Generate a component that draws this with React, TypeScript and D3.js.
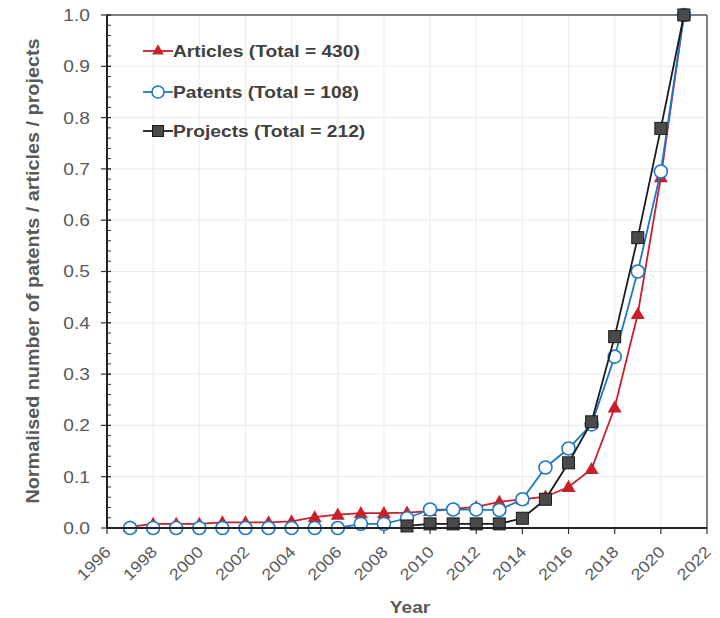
import React from "react";
import * as d3 from "d3";

const years = [1997, 1998, 1999, 2000, 2001, 2002, 2003, 2004, 2005, 2006, 2007, 2008, 2009, 2010, 2011, 2012, 2013, 2014, 2015, 2016, 2017, 2018, 2019, 2020, 2021];
const articles = [0.002, 0.008, 0.008, 0.008, 0.011, 0.011, 0.011, 0.013, 0.021, 0.026, 0.029, 0.029, 0.030, 0.033, 0.037, 0.041, 0.051, 0.056, 0.061, 0.080, 0.115, 0.235, 0.417, 0.684, 1.0];
const patents = [0, 0, 0, 0, 0, 0, 0, 0, 0, 0, 0.008, 0.008, 0.019, 0.036, 0.036, 0.036, 0.035, 0.056, 0.118, 0.155, 0.202, 0.334, 0.5, 0.695, 1.0];
const projects = [null, null, null, null, null, null, null, null, null, null, null, null, 0.004, 0.008, 0.008, 0.008, 0.008, 0.019, 0.056, 0.127, 0.207, 0.373, 0.566, 0.779, 1.0];
const seriesNames = ["Articles (Total = 430)", "Patents (Total = 108)", "Projects (Total = 212)"];
const xTicks = [1996, 1998, 2000, 2002, 2004, 2006, 2008, 2010, 2012, 2014, 2016, 2018, 2020, 2022];
const yTicks = [0, 0.1, 0.2, 0.3, 0.4, 0.5, 0.6, 0.7, 0.8, 0.9, 1.0];

const W = 720, H = 618;
const L = 107, R = 707, T = 15, B = 528;

const RED = "#c8202a";
const BLUE = "#1f78c8";
const BLACK = "#1a1a1a";
const SQFILL = "#4a4a4a";
const TXT = "#595959";
const FONT = "Liberation Sans, Arial, sans-serif";
const SX = 1.13;

export default function App() {
  const x = d3.scaleLinear().domain([1996, 2022]).range([L, R]);
  const y = d3.scaleLinear().domain([0, 1]).range([B, T]);
  const minorY = d3.range(0, 101, 2).map((v) => v / 100);

  const mk = (vals: (number | null)[]) =>
    d3
      .line<number>()
      .defined((_, i) => vals[i] !== null)
      .x((_, i) => x(years[i]))
      .y((_, i) => y(vals[i] as number))(vals as number[]) || "";

  const tri = d3.symbol(d3.symbolTriangle, 85)() || "";
  const triSmall = d3.symbol(d3.symbolTriangle, 60)() || "";

  const renderMarkers = (vals: (number | null)[], kind: string) =>
    vals.map((v, i) => {
      if (v === null) return null;
      const cx = x(years[i]);
      const cy = y(v);
      if (kind === "tri")
        return <path key={i} d={tri} transform={`translate(${cx},${cy + 1})`} fill={RED} />;
      if (kind === "circ")
        return <circle key={i} cx={cx} cy={cy} r={6.5} fill="#fff" stroke={BLUE} strokeWidth={1.6} />;
      return <rect key={i} x={cx - 6} y={cy - 6} width={12} height={12} fill={SQFILL} stroke={BLACK} strokeWidth={1} />;
    });

  const legendY = [51, 92, 131];
  const legendColors = [RED, BLUE, BLACK];
  const legendKinds = ["tri", "circ", "sq"];

  return (
    <svg width={W} height={H} style={{ position: "absolute", left: 0, top: 0, background: "#fff" }} fontFamily={FONT}>
      <rect x={0} y={0} width={W} height={H} fill="#fff" />
      {/* grid */}
      {xTicks.slice(1, -1).map((t) => (
        <line key={"gx" + t} x1={x(t)} x2={x(t)} y1={T} y2={B} stroke="#ebebeb" strokeWidth={1} />
      ))}
      {yTicks.slice(1, -1).map((t) => (
        <line key={"gy" + t} x1={L} x2={R} y1={y(t)} y2={y(t)} stroke="#ebebeb" strokeWidth={1} />
      ))}
      {/* frame */}
      <line x1={L} x2={R} y1={T} y2={T} stroke="#555" strokeWidth={1.5} />
      <line x1={R} x2={R} y1={T} y2={B} stroke="#555" strokeWidth={1.5} />
      {/* y minor ticks */}
      {minorY.map((t) => (
        <line key={"my" + t} x1={L} x2={L + 4} y1={y(t)} y2={y(t)} stroke="#333" strokeWidth={1} />
      ))}
      {yTicks.map((t) => (
        <g key={"ty" + t}>
          <line x1={L - 6} x2={L + 4} y1={y(t)} y2={y(t)} stroke="#333" strokeWidth={1.2} />
          <text
            transform={`translate(${L - 17},${y(t)}) scale(${SX},1)`}
            dy="0.35em"
            textAnchor="end"
            fontSize={17}
            fill={TXT}
          >
            {t.toFixed(1)}
          </text>
        </g>
      ))}
      {xTicks.map((t) => (
        <g key={"tx" + t}>
          <line x1={x(t)} x2={x(t)} y1={B} y2={B + 6} stroke="#333" strokeWidth={1.2} />
          <text
            transform={`translate(${x(t) + 1},${B + 21}) rotate(-45) scale(${SX},1)`}
            textAnchor="end"
            dy="0.35em"
            fontSize={16}
            fill={TXT}
          >
            {t}
          </text>
        </g>
      ))}
      {/* series */}
      <path d={mk(articles)} fill="none" stroke={RED} strokeWidth={1.8} />
      {renderMarkers(articles, "tri")}
      <path d={mk(patents)} fill="none" stroke={BLUE} strokeWidth={1.8} />
      {renderMarkers(patents, "circ")}
      <path d={mk(projects)} fill="none" stroke={BLACK} strokeWidth={1.8} />
      {renderMarkers(projects, "sq")}
      {/* axes lines */}
      <line x1={L} x2={L} y1={T} y2={B} stroke="#222" strokeWidth={2} />
      <line x1={L} x2={R} y1={B} y2={B} stroke="#222" strokeWidth={2} />
      {/* legend */}
      {seriesNames.map((n, i) => {
        const ly = legendY[i];
        const cx = 158;
        return (
          <g key={"lg" + i}>
            <line x1={143} x2={173} y1={ly} y2={ly} stroke={legendColors[i]} strokeWidth={1.8} />
            {legendKinds[i] === "tri" && <path d={triSmall} transform={`translate(${cx},${ly})`} fill={RED} />}
            {legendKinds[i] === "circ" && <circle cx={cx} cy={ly} r={6} fill="#fff" stroke={BLUE} strokeWidth={1.6} />}
            {legendKinds[i] === "sq" && <rect x={cx - 5.5} y={ly - 5.5} width={11} height={11} fill={SQFILL} stroke={BLACK} />}
            <text
              transform={`translate(173,${ly}) scale(${SX},1)`}
              dy="0.35em"
              fontSize={17}
              fontWeight="bold"
              fill="#404040"
            >
              {n}
            </text>
          </g>
        );
      })}
      {/* axis titles */}
      <text
        transform={`translate(410,613) scale(${SX},1)`}
        textAnchor="middle"
        fontSize={17}
        fontWeight="bold"
        fill={TXT}
      >
        Year
      </text>
      <text
        transform={`translate(33,271) rotate(-90) scale(1.1,1)`}
        textAnchor="middle"
        dy="0.35em"
        fontSize={18}
        fontWeight="bold"
        fill={TXT}
      >
        Normalised number of patents / articles / projects
      </text>
    </svg>
  );
}
